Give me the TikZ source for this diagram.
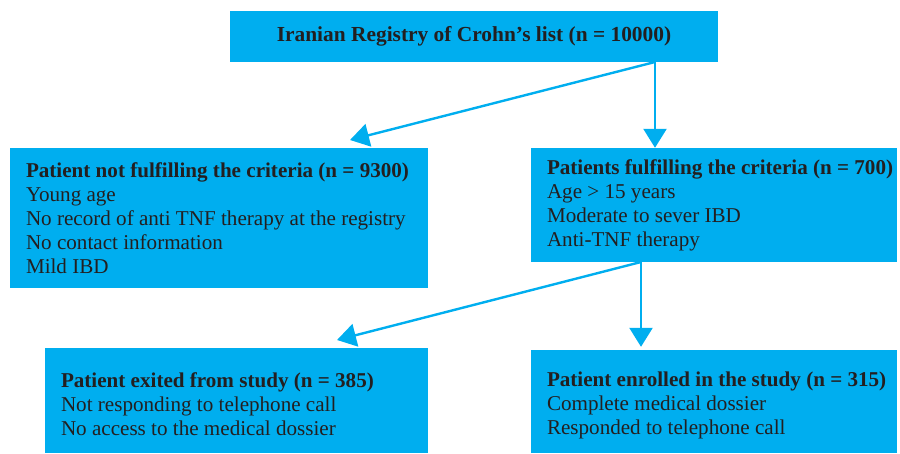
\documentclass[tikz,border=0pt]{standalone}
\usepackage{fontspec}
\setmainfont{Liberation Serif}
\usetikzlibrary{arrows.meta}
\definecolor{cyanbox}{HTML}{00AEEF}
\definecolor{ink}{HTML}{231F20}
\begin{document}
\begin{tikzpicture}[x=1pt,y=-1pt,
  box/.style={draw=none, fill=cyanbox, rectangle, inner sep=0pt},
  txt/.style={text=ink, align=left, inner sep=0pt, font=\fontsize{21.1}{24}\selectfont, anchor=west},
  arr/.style={draw=cyanbox, line width=2.4pt, -{Triangle[width=23pt,length=19pt]}}]
\useasboundingbox (0,0) rectangle (900,454);
% boxes
\node[box, minimum width=488pt, minimum height=51pt] (top) at (474,36.5) {};
\node[box, minimum width=418pt, minimum height=140pt] (L1) at (219,218) {};
\node[box, minimum width=366pt, minimum height=114pt] (R1) at (714,205) {};
\node[box, minimum width=383pt, minimum height=105pt] (L2) at (236.5,400.5) {};
\node[box, minimum width=366pt, minimum height=103pt] (R2) at (714,401.5) {};
% texts
\node[txt, anchor=center, font=\fontsize{21.4}{24}\selectfont] (topt) at (top.center) {\bfseries Iranian Registry of Crohn’s list (n = 10000)};
\node[txt] (L1t) at ([xshift=16pt]L1.west) {\bfseries Patient not fulfilling the criteria (n = 9300)\\Young age\\No record of anti TNF therapy at the registry\\No contact information\\Mild IBD};
\node[txt] (R1t) at ([xshift=16pt]R1.west) {\bfseries Patients fulfilling the criteria (n = 700)\\Age > 15 years\\Moderate to sever IBD\\Anti-TNF therapy};
\node[txt] (L2t) at ([xshift=16pt,yshift=-4pt]L2.west) {\bfseries Patient exited from study (n = 385)\\Not responding to telephone call\\No access to the medical dossier};
\node[txt] (R2t) at ([xshift=16pt,yshift=-4pt]R2.west) {\bfseries Patient enrolled in the study (n = 315)\\Complete medical dossier\\Responded to telephone call};
% connectors
\coordinate (j1) at (655,62);
\coordinate (e1) at (350,140);
\coordinate (j2) at (641,262);
\coordinate (e2) at (337,340);
\draw[arr] (j1) -- (j1 |- R1.north);
\draw[arr] (j1) -- (e1);
\draw[arr, shorten >=3pt] (j2) -- (j2 |- R2.north);
\draw[arr] (j2) -- (e2);
\end{tikzpicture}
\end{document}
